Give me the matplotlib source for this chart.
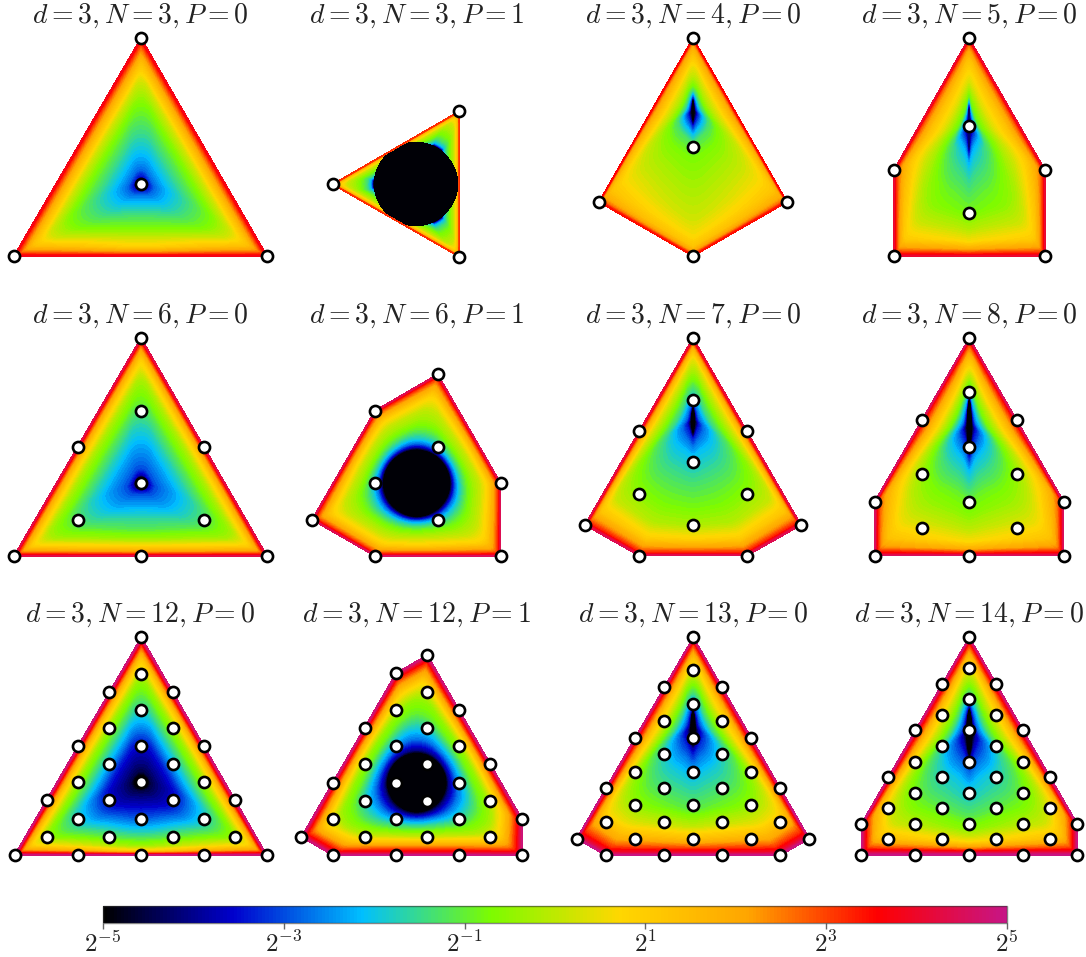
import numpy as np
import matplotlib
matplotlib.use("Agg")
import matplotlib.pyplot as plt
import matplotlib.tri as mtri
from matplotlib.colors import LinearSegmentedColormap, LogNorm

plt.rcParams['mathtext.fontset'] = 'cm'
plt.rcParams['font.family'] = 'DejaVu Serif'

W, H = 1086, 957

titles = ["d=3,N=3,P=0", "d=3,N=3,P=1", "d=3,N=4,P=0", "d=3,N=5,P=0",
          "d=3,N=6,P=0", "d=3,N=6,P=1", "d=3,N=7,P=0", "d=3,N=8,P=0",
          "d=3,N=12,P=0", "d=3,N=12,P=1", "d=3,N=13,P=0", "d=3,N=14,P=0"]

# node positions in image pixels
nodes = [
    [(141, 38), (141, 184), (14, 256), (267, 256)],
    [(459.3, 111.3), (332.7, 184.3), (459.3, 256.7)],
    [(693, 38), (693, 147), (599, 202), (787, 202), (693, 256)],
    [(969, 38), (969, 126), (894, 170), (1045, 170), (969, 213), (894, 256), (1045, 256)],
    [(141, 338), (141, 411), (78, 447), (204, 447), (141, 483), (78, 520), (204, 520),
     (14, 556), (141, 556), (267, 556)],
    [(437.7, 374.3), (375, 410.7), (500.7, 483.3), (437.7, 447), (375, 483.3),
     (312, 519.7), (437.7, 519.7), (375, 556), (500.7, 556)],
    [(693, 338), (693, 400), (639, 431.3), (747, 431.3), (693, 462.3), (639, 493.7),
     (747, 493.7), (585, 525), (693, 525), (801, 525), (639, 555.7), (747, 555.7)],
    [(969.3, 338), (969.3, 392.3), (922, 419.7), (1016.7, 419.7), (969.3, 447.3),
     (922, 474.3), (1016.7, 474.3), (874.7, 501.7), (969.3, 501.7), (1063.7, 501.7),
     (922, 528.3), (1016.7, 528.3), (874.7, 555.7), (969.3, 555.7), (1063.7, 555.7)],
    [(141.3, 637.3), (141.3, 673.7), (109.3, 691.7), (172.7, 691.7), (141.3, 709.7),
     (109.3, 728), (172.7, 728), (78, 746), (141.3, 746), (204, 746), (109.3, 764.3),
     (172.7, 764.3), (78, 782.3), (141.3, 782.3), (204, 782.3), (46.7, 800.3),
     (109.3, 800.3), (172.7, 800.3), (235.3, 800.3), (78, 818.7), (141.3, 818.7),
     (204, 818.7), (46.7, 837), (109.3, 837), (172.7, 837), (235.3, 837), (14.7, 855),
     (78, 855), (141.3, 855), (204, 855), (266.7, 855)],
    [(427.3, 655), (396, 673.3), (427.3, 691.7), (396, 709.7), (459, 709.7), (364.7, 728),
     (427.3, 728), (396, 746), (459, 746), (364.7, 764.3), (427.3, 764.3), (490.3, 764.3),
     (333, 782.7), (396, 782.7), (459, 782.7), (364.7, 800.7), (427.3, 800.7),
     (490.3, 800.7), (333, 819), (396, 819), (459, 819), (522, 819), (301.3, 837),
     (364.7, 837), (427.3, 837), (490.3, 837), (333, 855.3), (396, 855.3), (459, 855.3),
     (522, 855.3)],
    [(693.3, 637.3), (693.3, 670), (664.3, 687.3), (722, 687.3), (693.3, 704.3),
     (664.3, 721), (722, 721), (635, 738), (693.3, 738), (751.3, 738), (664.3, 754.3),
     (722, 754.3), (635, 771.7), (693.3, 771.7), (751.3, 771.7), (606, 788.3),
     (664.3, 788.3), (722, 788.3), (780.3, 788.3), (635, 805), (693.3, 805), (751.3, 805),
     (606, 821.7), (664.3, 821.7), (722, 821.7), (780.3, 821.7), (576.7, 838.7),
     (635, 838.7), (693.3, 838.7), (751.3, 838.7), (809.3, 838.7), (606, 855.3),
     (664.3, 855.3), (722, 855.3), (780.3, 855.3)],
    [(969.3, 637.3), (969.3, 668.3), (942.3, 683.7), (996, 683.7), (969.3, 699),
     (942.3, 715), (996, 715), (915.3, 730.3), (969.3, 730.3), (1023.3, 730.3),
     (942.3, 745.7), (996, 745.7), (915.3, 761.7), (969.3, 761.7), (1023.3, 761.7),
     (888.3, 777.3), (942.3, 777.3), (996, 777.3), (1050.3, 777.3), (915.3, 792.7),
     (969.3, 792.7), (1023.3, 792.7), (888.3, 808.3), (942.3, 808.3), (996, 808.3),
     (1050.3, 808.3), (861.3, 824), (915.3, 824), (969.3, 824), (1023.3, 824),
     (1077.3, 824), (888.3, 839.3), (942.3, 839.3), (996, 839.3), (1050.3, 839.3),
     (861.3, 855), (915.3, 855), (969.3, 855), (1023.3, 855), (1077.3, 855)],
]

hulls = [
    [(141, 38), (267, 256), (14, 256)],
    [(459.3, 111.3), (459.3, 256.7), (332.7, 184.3)],
    [(693, 38), (787, 202), (693, 256), (599, 202)],
    [(969, 38), (1045, 170), (1045, 256), (894, 256), (894, 170)],
    [(141, 338), (267, 556), (14, 556)],
    [(437.7, 374.3), (500.7, 483.3), (500.7, 556), (375, 556), (312, 519.7), (375, 410.7)],
    [(693, 338), (801, 525), (747, 555.7), (639, 555.7), (585, 525)],
    [(969.3, 338), (1063.7, 501.7), (1063.7, 555.7), (874.7, 555.7), (874.7, 501.7)],
    [(141.3, 637.3), (266.7, 855), (14.7, 855)],
    [(427.3, 655), (522, 819), (522, 855.3), (333, 855.3), (301.3, 837), (396, 673.3)],
    [(693.3, 637.3), (809.3, 838.7), (780.3, 855.3), (606, 855.3), (576.7, 838.7)],
    [(969.3, 637.3), (1077.3, 824), (1077.3, 855), (861.3, 855), (861.3, 824)],
]

# low-value core of each panel: centre x, centre y, half width, half height
cores = [
    (141, 184, 4, 4), (416, 184, 43, 43), (693, 110, 2, 12), (969, 128, 2, 24),
    (141, 483, 5, 5), (416.7, 483.3, 34, 34), (693, 420, 2.5, 14), (969.3, 425, 3, 28),
    (141, 782, 7, 7), (416.7, 782.7, 30, 30), (693, 727, 3, 18), (969.3, 732, 3.5, 24),
]

# log2 of the field at fractions of the way from core to hull,
# read along a sideways ray and along a ray going down to the bottom edge
fractions = [0, .04, .1, .18, .3, .45, .6, .75, .87, .94, .98, 1]
side_levels = [
    [-5, -3.5, -2.8, -2.4, -1.9, -1.3, -0.7, 0.3, 1.6, 2.6, 3.3, 3.8],
    [-5, -3.6, -2.5, -1.9, -1.3, -0.8, -0.3, 0.2, 1.0, 1.7, 2.4, 3.2],
    [-5, -3.4, -2.4, -1.5, -0.7, 0.0, 0.5, 1.2, 1.8, 2.4, 3.0, 3.6],
    [-4.2, -3.2, -2.2, -1.0, -0.4, 0.3, 0.8, 1.4, 2.2, 2.8, 3.4, 4.0],
    [-5, -3.7, -3.0, -2.7, -2.3, -1.7, -1.0, -0.2, 1.0, 2.2, 3.3, 4.3],
    [-5, -3.9, -2.8, -1.9, -1.1, -0.4, 0.1, 0.9, 2.0, 2.9, 3.6, 4.4],
    [-5, -3.6, -2.8, -2.3, -1.5, -0.9, -0.2, 0.5, 1.6, 2.6, 3.4, 4.2],
    [-5, -3.6, -2.6, -1.9, -0.9, -0.1, 0.7, 1.6, 2.6, 3.3, 3.9, 4.5],
    [-5, -4.5, -4.2, -3.9, -3.4, -2.3, -1.3, -0.3, 1.2, 2.7, 4.0, 4.8],
    [-5, -4.1, -3.5, -2.7, -1.9, -1.0, -0.4, 0.8, 2.3, 3.4, 4.3, 4.8],
    [-5, -3.8, -3.0, -2.3, -1.4, -0.6, 0.3, 1.2, 2.5, 3.4, 4.2, 4.8],
    [-5, -3.8, -3.0, -2.3, -1.3, -0.5, 0.3, 1.3, 2.6, 3.5, 4.2, 4.8],
]
down_levels = [
    [-5, -3.5, -2.8, -2.3, -1.8, -1.2, -0.7, 0.2, 0.9, 2.1, 3.1, 3.8],
    [-5, -3.6, -2.5, -1.9, -1.3, -0.8, -0.3, 0.2, 1.0, 1.7, 2.4, 3.2],
    [-5, -3.4, -2.2, -1.2, -0.7, -0.4, -0.1, 0.2, 0.7, 1.3, 2.3, 3.4],
    [-4.2, -3.2, -2.3, -1.9, -1.5, -1.1, -0.8, -0.1, 0.7, 2.0, 3.2, 4.0],
    [-5, -3.7, -3.0, -2.6, -2.2, -1.6, -1.2, -0.4, 0.9, 2.0, 3.3, 4.3],
    [-5, -3.9, -2.7, -1.8, -1.0, -0.3, 0.3, 1.0, 2.1, 3.0, 3.8, 4.6],
    [-5, -3.4, -2.7, -2.1, -1.7, -1.2, -0.8, -0.2, 0.9, 2.2, 3.3, 4.5],
    [-5, -3.5, -2.8, -2.1, -1.6, -1.0, -0.6, 0.0, 0.7, 1.9, 3.4, 4.6],
    [-5, -4.5, -4.2, -3.9, -3.5, -2.9, -2.1, -1.2, -0.3, 0.9, 3.0, 4.8],
    [-5, -4.3, -3.5, -2.6, -1.6, -0.7, 0.3, 1.8, 3.1, 3.9, 4.5, 5.0],
    [-5, -3.9, -3.2, -2.6, -2.0, -1.5, -1.0, 0.1, 1.6, 3.0, 4.1, 5.0],
    [-5, -3.9, -3.2, -2.7, -2.1, -1.7, -1.2, -0.5, 0.7, 2.5, 4.2, 5.0],
]

cbar_colors = ['black', 'mediumblue', 'deepskyblue', 'lawngreen', 'gold', 'orange', 'red', 'mediumvioletred']
cbar_ticks = [-5, -3, -1, 1, 3, 5]

title_x = [140.5, 417, 693.5, 969.5]
row_top = [38, 338, 637]

cmap = LinearSegmentedColormap.from_list('field', cbar_colors, N=256)
levels = np.linspace(-5, 5, 81)


def ray_to_hull(cx, cy, dx, dy, hull):
    best = np.inf
    for i in range(len(hull)):
        ax_, ay_ = hull[i]
        bx_, by_ = hull[(i + 1) % len(hull)]
        ex, ey = bx_ - ax_, by_ - ay_
        det = dx * (-ey) + ex * dy
        if abs(det) < 1e-12:
            continue
        t = ((ax_ - cx) * (-ey) + ex * (ay_ - cy)) / det
        s = (dx * (ay_ - cy) - dy * (ax_ - cx)) / det
        if t > 0 and -1e-6 <= s <= 1 + 1e-6:
            best = min(best, t)
    return best


def ring_mesh(hull, core, side, down):
    cx, cy, rx, ry = core
    corner_angles = np.array([np.arctan2(y - cy, x - cx) % (2 * np.pi) for x, y in hull])
    angles = np.linspace(0, 2 * np.pi, 360, endpoint=False)
    # drop rays right next to a corner ray, they make slivers
    angles = [a for a in angles if np.min(np.abs(corner_angles - a)) > 0.004]
    angles = np.sort(np.concatenate([angles, corner_angles]))
    r_out = np.array([ray_to_hull(cx, cy, np.cos(a), np.sin(a), hull) for a in angles])
    offsets = np.linspace(-1, 1, 31)
    xs, ys, zs = [cx], [cy], [side[0]]
    for a, ro in zip(angles, r_out):
        dx, dy = np.cos(a), np.sin(a)
        r_in = min(1 / np.hypot(dx / rx, dy / ry), 0.995 * ro)
        w = max(0.0, dy) ** 2
        for f, s, d in zip(fractions, side, down):
            # inner rings are rounder than the hull, outer ones follow its corners
            h = 0.55 * (1 - f) ** 1.5
            ro_s = np.interp((a + h * offsets) % (2 * np.pi), angles, r_out, period=2 * np.pi).mean()
            r = min(r_in + f * (ro_s - r_in), ro * (0.6 + 0.4 * f))
            r = max(r, r_in)
            if f == 1:
                r = ro
            xs.append(cx + r * dx)
            ys.append(cy + r * dy)
            zs.append((1 - w) * s + w * d)
    n_a, n_f = len(angles), len(fractions)
    tris = []
    for i in range(n_a):
        j = (i + 1) % n_a
        a0 = 1 + i * n_f
        b0 = 1 + j * n_f
        tris.append((0, a0, b0))
        for k in range(n_f - 1):
            tris.append((a0 + k, a0 + k + 1, b0 + k + 1))
            tris.append((a0 + k, b0 + k + 1, b0 + k))
    return mtri.Triangulation(xs, ys, tris), np.array(zs)


fig = plt.figure(figsize=(W / 100, H / 100), dpi=100)

for i in range(12):
    col, row = i % 4, i // 4
    x0 = title_x[col] - 136
    y0 = row_top[row] - 8
    ax = fig.add_axes([x0 / W, 1 - (y0 + 228) / H, 272 / W, 228 / H])
    ax.set_xlim(x0, x0 + 272)
    ax.set_ylim(y0 + 228, y0)
    ax.axis('off')

    tri, z = ring_mesh(hulls[i], cores[i], side_levels[i], down_levels[i])
    cs = ax.tricontourf(tri, z, levels=levels, cmap=cmap, vmin=-5, vmax=5, extend='both')
    cs.set_edgecolor('face')
    cs.set_linewidth(0.3)

    px, py = zip(*nodes[i])
    ax.plot(px, py, 'o', ms=8, mfc='white', mec='black', mew=1.9, clip_on=False, zorder=5)

    ax.set_title('$' + titles[i] + '$', fontsize=20, pad=3, color='#222222')

cax = fig.add_axes([103 / W, 1 - 923 / H, 904 / W, 17 / H])
sm = plt.cm.ScalarMappable(norm=LogNorm(2.0 ** -5, 2.0 ** 5), cmap=cmap)
cbar = fig.colorbar(sm, cax=cax, orientation='horizontal')
cbar.set_ticks([2.0 ** k for k in cbar_ticks])
cbar.set_ticklabels(['$2^{%d}$' % k for k in cbar_ticks])
cbar.ax.minorticks_off()
cbar.ax.tick_params(labelsize=18, length=4, width=1, color='#666666', labelcolor='#222222', pad=2)
cbar.outline.set_edgecolor('#333333')
cbar.outline.set_alpha(0.6)
cbar.outline.set_linewidth(1)

fig.savefig('out.png', dpi=100)
